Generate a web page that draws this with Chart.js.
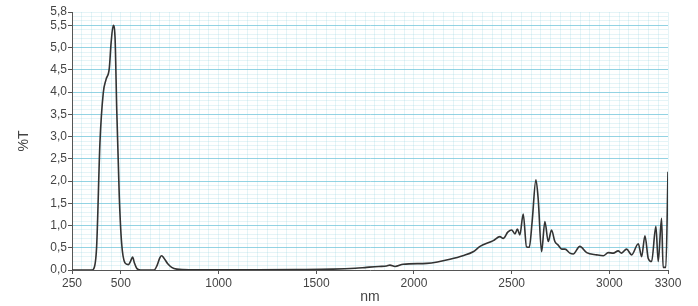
<!DOCTYPE html>
<html>
<head>
<meta charset="utf-8">
<script src="https://cdn.jsdelivr.net/npm/chart.js@4"></script>
<style>
  body { margin: 0; background: #fff; }
</style>
</head>
<body>
<canvas id="spectrum" width="698" height="306"></canvas>
<script>
// wavelength (nm) and transmittance (%T)
const wavelengths = [250, 300, 350, 360, 376, 393, 410, 424, 441, 450, 461, 470, 479, 492, 504, 521, 538, 550, 560, 570, 581, 600,
    670, 685, 700, 709, 720, 740, 760, 786, 850, 1000, 1200, 1400, 1586, 1700, 1758, 1820, 1860, 1877, 1903, 1945,
    2065, 2120, 2184, 2250, 2303, 2338, 2406, 2440, 2457, 2480, 2500, 2517, 2529, 2542, 2559, 2576, 2590, 2605,
    2624, 2636, 2653, 2670, 2687, 2704, 2721, 2738, 2756, 2773, 2798, 2815, 2849, 2884, 2935, 2969, 2994, 3020,
    3045, 3062, 3088, 3114, 3148, 3165, 3182, 3199, 3216, 3238, 3250, 3267, 3275, 3289, 3300];
const transmittance = [0, 0, 0, 0.02, 0.52, 2.86, 3.98, 4.28, 4.54, 5.1, 5.5, 5.25, 3.6, 1.65, 0.6, 0.16, 0.12, 0.2, 0.29, 0.15, 0.04, 0,
    0, 0.1, 0.28, 0.32, 0.27, 0.14, 0.06, 0.02, 0.005, 0.005, 0.005, 0.01, 0.02, 0.04, 0.06, 0.08, 0.09, 0.11, 0.08, 0.13,
    0.15, 0.18, 0.24, 0.32, 0.41, 0.53, 0.66, 0.75, 0.71, 0.85, 0.9, 0.81, 0.92, 0.79, 1.26, 0.52, 0.51, 1.1,
    2.03, 1.58, 0.41, 1.09, 0.64, 0.9, 0.64, 0.56, 0.47, 0.47, 0.38, 0.36, 0.53, 0.39, 0.34, 0.32, 0.39, 0.38,
    0.43, 0.38, 0.47, 0.34, 0.59, 0.30, 0.77, 0.26, 0.19, 0.98, 0.19, 1.16, 0.06, 0.06, 2.21];

const xLabels = [250, 500, 1000, 1500, 2000, 2500, 3000, 3300];
const yLabels = [0, 0.5, 1, 1.5, 2, 2.5, 3, 3.5, 4, 4.5, 5, 5.5, 5.8];

const points = wavelengths.map((w, i) => ({ x: w, y: transmittance[i] }));

const majorLine = 'rgba(120,200,220,0.8)';
const minorLine = 'rgba(150,210,225,0.25)';
const textColor = '#444';

function isYLabel(v) {
    return yLabels.some(l => Math.abs(l - v) < 1e-6);
}

new Chart(document.getElementById('spectrum'), {
    type: 'line',
    data: {
        datasets: [{
            data: points,
            borderColor: '#333',
            borderWidth: 1.6,
            pointRadius: 0,
            cubicInterpolationMode: 'monotone',
            fill: false
        }]
    },
    options: {
        responsive: false,
        animation: false,
        layout: { padding: { top: 12, right: 30, bottom: 0, left: 0 } },
        plugins: { legend: { display: false }, tooltip: { enabled: false } },
        scales: {
            x: {
                type: 'linear',
                min: 250,
                max: 3300,
                afterBuildTicks: scale => {
                    const t = [];
                    for (let v = 250; v <= 3300; v += 50) t.push({ value: v });
                    scale.ticks = t;
                },
                afterFit: scale => { scale.height = 36; },
                ticks: {
                    autoSkip: false,
                    maxRotation: 0,
                    padding: 2,
                    color: textColor,
                    font: { family: 'Liberation Sans', size: 12 },
                    callback: v => xLabels.includes(v) ? String(v) : ''
                },
                grid: {
                    color: minorLine,
                    lineWidth: 1,
                    tickLength: 4,
                    tickColor: ctx => xLabels.includes(ctx.tick.value) ? '#555' : 'rgba(0,0,0,0)'
                },
                border: { color: '#555', width: 1 },
                title: {
                    display: true,
                    text: 'nm',
                    color: textColor,
                    font: { family: 'Liberation Sans', size: 14 },
                    padding: { top: 0, bottom: 0 }
                }
            },
            y: {
                min: 0,
                max: 5.8,
                afterBuildTicks: scale => {
                    const t = [];
                    for (let k = 0; k <= 58; k++) t.push({ value: k / 10 });
                    scale.ticks = t;
                },
                afterFit: scale => { scale.width = 72; },
                ticks: {
                    autoSkip: false,
                    padding: 1,
                    color: textColor,
                    font: { family: 'Liberation Sans', size: 12 },
                    callback: v => isYLabel(v) ? v.toFixed(1).replace('.', ',') : ''
                },
                grid: {
                    color: ctx => {
                        const k = Math.round(ctx.tick.value * 10);
                        return (k % 5 === 0 && k > 0) ? majorLine : minorLine;
                    },
                    lineWidth: 1,
                    tickLength: 4,
                    tickColor: ctx => isYLabel(ctx.tick.value) ? '#555' : 'rgba(0,0,0,0)'
                },
                border: { color: '#555', width: 1 },
                title: {
                    display: true,
                    text: '%T',
                    color: textColor,
                    font: { family: 'Liberation Sans', size: 14 },
                    padding: { top: 16, bottom: 0 }
                }
            }
        }
    }
});
</script>
</body>
</html>
